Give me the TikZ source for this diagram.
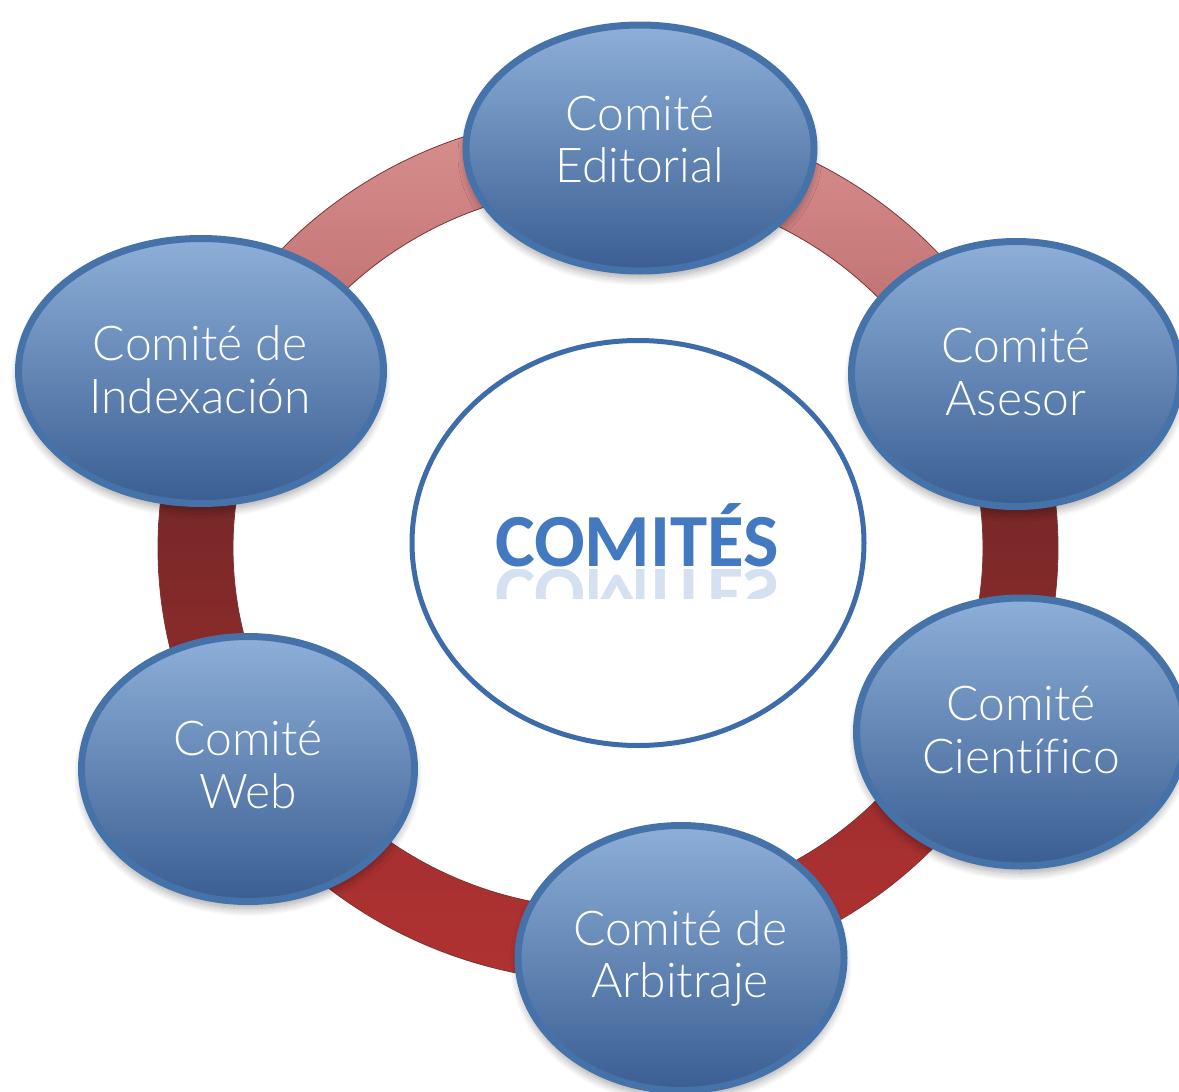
\documentclass[tikz,border=0pt]{standalone}
\usepackage{fontspec}
\setmainfont{Lato Light}[Ligatures=NoCommon]
\newfontfamily\titlefont{Carlito}
\usetikzlibrary{shapes.geometric,shadows.blur}
\definecolor{bubtop}{HTML}{8DAFD8}
\definecolor{bubmid}{HTML}{5B87C2}
\definecolor{bubbot}{HTML}{3A5E92}
\definecolor{bubedge}{HTML}{4672AA}
\definecolor{ringedge}{HTML}{7A3434}
\definecolor{circedge}{HTML}{3E6CAA}
\definecolor{titleblue}{HTML}{4279C1}
\definecolor{rsa}{HTML}{B03232}
\definecolor{rsb}{HTML}{A83030}
\definecolor{rsc}{HTML}{882A2A}
\definecolor{rsd}{HTML}{7A2828}
\definecolor{rse}{HTML}{963838}
\definecolor{rsf}{HTML}{C27474}
\definecolor{rsg}{HTML}{DA9090}
\pgfdeclareverticalshading{ringshade}{100bp}{%
  color(0bp)=(rsa);
  color(25bp)=(rsa);
  color(32bp)=(rsb);
  color(45bp)=(rsc);
  color(52bp)=(rsd);
  color(57bp)=(rse);
  color(64bp)=(rsf);
  color(75bp)=(rsg);
  color(100bp)=(rsg)}
\begin{document}
\begin{tikzpicture}[x=1pt,y=-1pt,
  bub/.style={ellipse, draw=bubedge, line width=7pt, top color=bubtop, middle color=bubmid, bottom color=bubbot, inner sep=0pt,
    blur shadow={shadow xshift=0pt, shadow yshift=-7pt, shadow opacity=35, shadow blur steps=10, shadow blur radius=8pt}},
  lbl/.style={text=white, font=\fontsize{48}{52}\selectfont, anchor=base, inner sep=0pt},
  ttl/.style={font=\titlefont\bfseries\fontsize{75}{75}\selectfont, anchor=base, inner sep=0pt}]
\useasboundingbox (0,0) rectangle (1179,1092);
% ring
\shadedraw[even odd rule, shading=ringshade, draw=ringedge, line width=0.8pt]
  (608,548) ellipse [x radius=450, y radius=434] (608,548) ellipse [x radius=375, y radius=361];
% center circle
\node[ellipse, draw=circedge, line width=5pt, fill=white, minimum width=452pt, minimum height=405pt, inner sep=0pt] (center) at (638,543) {};
\node[ttl, text=titleblue] (title) at (637,566) {COMITÉS};
\begin{scope}
\clip (480,569) rectangle (800,598);
\node[ttl, text=titleblue!22] (refl) at (637,569) {\scalebox{1}[-1]{COMITÉS}};
\end{scope}
% bubbles
\node[bub, minimum width=348pt, minimum height=246pt] (e1) at (640,148) {};
\node[bub, minimum width=329pt, minimum height=265pt] (e2) at (1016,374) {};
\node[bub, minimum width=329pt, minimum height=268pt] (e3) at (1021,732) {};
\node[bub, minimum width=326pt, minimum height=265pt] (e4) at (681,958) {};
\node[bub, minimum width=333pt, minimum height=265pt] (e5) at (248,769) {};
\node[bub, minimum width=365pt, minimum height=265pt] (e6) at (201,371) {};
% labels
\node[lbl] (t1a) at (640,130) {Comité};
\node[lbl] (t1b) at (640,182) {Editorial};
\node[lbl] (t2a) at (1016,362) {Comité};
\node[lbl] (t2b) at (1016,415) {Asesor};
\node[lbl] (t3a) at (1021,720) {Comité};
\node[lbl] (t3b) at (1021,773) {Científico};
\node[lbl] (t4a) at (680,945) {Comité de};
\node[lbl] (t4b) at (680,997) {Arbitraje};
\node[lbl] (t5a) at (248,755) {Comité};
\node[lbl] (t5b) at (248,808) {Web};
\node[lbl] (t6a) at (200,360) {Comité de};
\node[lbl] (t6b) at (200,413) {Indexación};
\end{tikzpicture}
\end{document}
